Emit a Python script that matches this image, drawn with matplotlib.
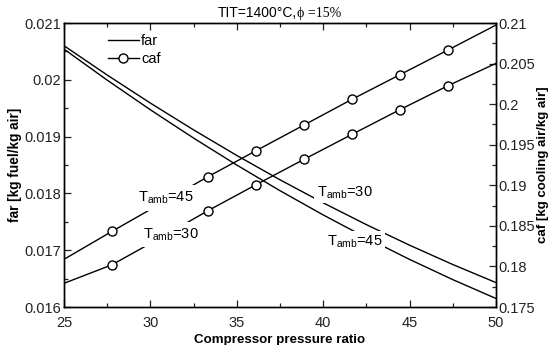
import matplotlib
matplotlib.use("Agg")
import matplotlib.pyplot as plt
from matplotlib.ticker import MultipleLocator
from matplotlib.lines import Line2D

plt.rcParams['font.family'] = ['Liberation Sans', 'DejaVu Sans']

# Data
pr_far = [25, 27.5, 30, 32.5, 35, 37.5, 40, 42.5, 45, 47.5, 50]
far_t30 = [0.02060, 0.020084, 0.019590, 0.019118, 0.018668, 0.018240,
           0.017834, 0.017450, 0.017088, 0.016748, 0.016430]
far_t45 = [0.02054, 0.019994, 0.019472, 0.018974, 0.018499, 0.018048,
           0.017621, 0.017218, 0.016838, 0.016482, 0.016150]

pr_caf = [25, 27.78, 30.56, 33.33, 36.11, 38.89, 41.67, 44.44, 47.22, 50]
caf_t45 = [0.18088, 0.18433, 0.18770, 0.19106, 0.19426, 0.19743,
           0.20060, 0.20363, 0.20667, 0.20975]
caf_t30 = [0.17792, 0.18021, 0.18350, 0.18687, 0.19007, 0.19320,
           0.19628, 0.19932, 0.20227, 0.20503]

xticks = [25, 30, 35, 40, 45, 50]

fig = plt.figure(figsize=(5.5, 3.45), dpi=100)
ax = fig.add_axes([0.1164, 0.1101, 0.7854, 0.8232])
ax2 = ax.twinx()

lw = 1.0
ax.plot(pr_far, far_t30, color='black', lw=lw)
ax.plot(pr_far, far_t45, color='black', lw=lw)

mk = dict(color='black', lw=lw, marker='o', markersize=6.5,
          markerfacecolor='white', markeredgecolor='black', markeredgewidth=1.0,
          markevery=slice(1, -1))
ax2.plot(pr_caf, caf_t45, **mk)
ax2.plot(pr_caf, caf_t30, **mk)

ax.set_xlim(25, 50)
ax.set_ylim(0.016, 0.021)
ax2.set_ylim(0.175, 0.21)
ax.set_xticks(xticks)
ax.xaxis.set_minor_locator(MultipleLocator(2.5))
ax.yaxis.set_major_locator(MultipleLocator(0.001))
ax.yaxis.set_minor_locator(MultipleLocator(0.0005))
ax2.yaxis.set_major_locator(MultipleLocator(0.005))
ax2.yaxis.set_minor_locator(MultipleLocator(0.0025))

fmt = plt.FuncFormatter(lambda v, p: ('%g' % round(v, 4)))
ax.yaxis.set_major_formatter(fmt)
ax2.yaxis.set_major_formatter(fmt)

for a in (ax, ax2):
    a.tick_params(which='both', direction='in', labelsize=10.5, colors='#222222', pad=2)
    a.tick_params(which='major', length=5, width=0.9)
    a.tick_params(which='minor', length=3, width=0.9)
    for s in a.spines.values():
        s.set_linewidth(1.0)
ax.tick_params(which='both', top=True, right=False)
ax.tick_params(axis='x', which='both', pad=6.5)
ax2.tick_params(which='both', right=True)

ax.set_xlabel('Compressor pressure ratio', fontsize=9.6, fontweight='bold', labelpad=3)
ax.set_ylabel('far [kg fuel/kg air]', fontsize=9.8, fontweight='bold', labelpad=1.5)
ax2.set_ylabel('caf [kg cooling air/kg air]', fontsize=9.5, fontweight='bold', labelpad=1)

lab = dict(fontsize=10.5, transform=ax.transData, ha='center', va='center', zorder=10)
ax2.text(30.9, 0.01792, r'T$_{\mathregular{amb}}$=45',
         bbox=dict(facecolor='white', edgecolor='none', pad=3.5), **lab)
ax2.text(31.2, 0.01728, r'T$_{\mathregular{amb}}$=30',
         bbox=dict(facecolor='white', edgecolor='none', pad=3.0), **lab)
ax2.text(41.25, 0.01802, r'T$_{\mathregular{amb}}$=30',
         bbox=dict(facecolor='white', edgecolor='none', pad=2.0), **lab)
ax2.text(41.8, 0.01715, r'T$_{\mathregular{amb}}$=45',
         bbox=dict(facecolor='white', edgecolor='none', pad=2.0), **lab)

# legend (no frame)
h1 = Line2D([], [], color='black', lw=lw)
h2 = Line2D([], [], color='black', lw=lw, marker='o', markersize=6.5,
            markerfacecolor='white', markeredgecolor='black')
ax2.legend([h1, h2], ['far', 'caf'], loc='upper left', frameon=False,
           bbox_to_anchor=(0.102, 0.96), fontsize=10.5, handlelength=2.1,
           handletextpad=0.15, labelspacing=0.23, borderaxespad=0, borderpad=0)

fig.text(297 / 550, 1 - 13 / 345, 'TIT=1400\u00b0C,', ha='right', va='center', fontsize=10)
fig.text(297 / 550, 1 - 13 / 345, '\u03d5 =15%', ha='left', va='center', fontsize=10,
         family=['Liberation Serif', 'DejaVu Serif'])

fig.savefig('out.png', dpi=100)
